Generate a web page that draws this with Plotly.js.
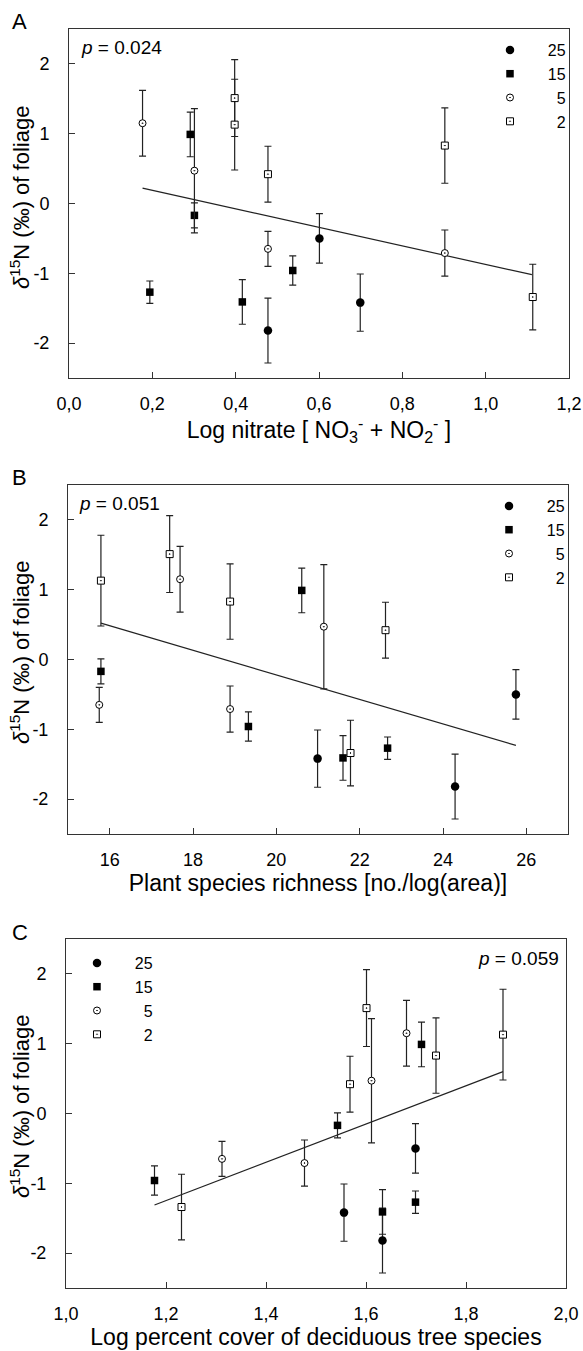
<!DOCTYPE html>
<html>
<head>
<meta charset="utf-8">
<script src="https://cdn.plot.ly/plotly-3.0.1.min.js"></script>
<style>html,body{margin:0;padding:0;background:#fff;}#chart{width:583px;height:1351px;}</style>
</head>
<body>
<div id="chart"></div>
<script>
// ---- data ----
const groupNames = ['25', '15', '5', '2'];
const legendLabels = ['\u2007\u200725', '\u2007\u200715', '\u2007\u2007\u20075', '\u2007\u2007\u20072'];

// 25 (filled circles)
const y25 = [-0.50, -1.82, -1.42];
const e25 = [0.355, 0.465, 0.41];
const xA25 = [0.601, 0.4775, 0.699];
const xB25 = [25.75, 24.29, 20.99];
const xC25 = [1.699, 1.633, 1.556];

// 15 (filled squares)
const y15 = [0.99, -0.17, -0.96, -1.27, -1.41];
const e15 = [0.32, 0.18, 0.21, 0.16, 0.32];
const xA15 = [0.291, 0.301, 0.537, 0.194, 0.416];
const xB15 = [20.61, 15.79, 19.33, 22.67, 21.60];
const xC15 = [1.711, 1.543, 1.177, 1.699, 1.633];

// 5 (open circles)
const y5 = [1.15, 0.47, -0.65, -0.71];
const e5 = [0.47, 0.89, 0.25, 0.33];
const xA5 = [0.1765, 0.301, 0.4775, 0.902];
const xB5 = [17.69, 21.14, 15.75, 18.89];
const xC5 = [1.681, 1.611, 1.312, 1.477];

// 2 (open squares)
const y2 = [1.51, 1.13, 0.42, 0.83, -1.34];
const e2 = [0.55, 0.65, 0.40, 0.54, 0.47];
const xA2 = [0.3976, 0.3976, 0.4775, 0.902, 1.113];
const xB2 = [17.44, 15.79, 22.62, 18.89, 21.78];
const xC2 = [1.601, 1.874, 1.568, 1.740, 1.231];

// regression lines
const fitAx = [0.1765, 1.111], fitAy = [0.22, -1.02];
const fitBx = [15.79, 25.75], fitBy = [0.52, -1.23];
const fitCx = [1.177, 1.874], fitCy = [-1.31, 0.60];

const pTexts = ['0.024', '0.051', '0.059'];
const yTickVals = [-2, -1, 0, 1, 2];
const yTickText = ['-2', '-1', '0', '1', '2'];
const xTickValsA = [0, 0.2, 0.4, 0.6, 0.8, 1.0, 1.2];
const xTickTextA = ['0,0', '0,2', '0,4', '0,6', '0,8', '1,0', '1,2'];
const xTickValsB = [16, 18, 20, 22, 24, 26];
const xTickTextB = ['16', '18', '20', '22', '24', '26'];
const xTickValsC = [1.0, 1.2, 1.4, 1.6, 1.8, 2.0];
const xTickTextC = ['1,0', '1,2', '1,4', '1,6', '1,8', '2,0'];

// ---- layout helpers ----
const W = 583, H = 1351;
const M = {l: 66, r: 14, t: 29, b: 63};
const PW = W - M.l - M.r, PH = H - M.t - M.b;
const px2x = p => (p - M.l) / PW;
const px2y = p => (H - M.b - p) / PH;

const FONT = 'Liberation Sans, Arial, Helvetica, sans-serif';
const styles = [
  {symbol: 'circle', size: 8.5, color: '#000', lw: 0},
  {symbol: 'square', size: 7.5, color: '#000', lw: 0},
  {symbol: 'circle-dot', size: 7, color: '#fff', lw: 1},
  {symbol: 'square-dot', size: 7, color: '#fff', lw: 1}
];

const panels = [
  {xs: [xA25, xA15, xA5, xA2], fx: fitAx, fy: fitAy, xa: 'x', ya: 'y', leg: 'legend'},
  {xs: [xB25, xB15, xB5, xB2], fx: fitBx, fy: fitBy, xa: 'x2', ya: 'y2', leg: 'legend2'},
  {xs: [xC25, xC15, xC5, xC2], fx: fitCx, fy: fitCy, xa: 'x3', ya: 'y3', leg: 'legend3'}
];
const ys = [y25, y15, y5, y2];
const es = [e25, e15, e5, e2];

const traces = [];
panels.forEach(p => {
  traces.push({
    type: 'scatter', mode: 'lines', x: p.fx, y: p.fy, xaxis: p.xa, yaxis: p.ya,
    line: {color: '#222', width: 1.2}, showlegend: false, hoverinfo: 'skip'
  });
  for (let g = 0; g < 4; g++) {
    const s = styles[g];
    traces.push({
      type: 'scatter', mode: 'markers', name: legendLabels[g],
      x: p.xs[g], y: ys[g], xaxis: p.xa, yaxis: p.ya, legend: p.leg,
      marker: {symbol: s.symbol, size: s.size, color: s.color, line: {color: '#000', width: s.lw}},
      error_y: {type: 'data', array: es[g], visible: true, color: '#222', thickness: 1.2, width: 3.5}
    });
  }
});

const yTitle = '<i>δ</i><sup>15</sup>N (‰) of foliage';
function xAxis(domain, range, vals, text, title, anchor) {
  return {
    domain: domain, range: range, anchor: anchor,
    tickvals: vals, ticktext: text, ticks: 'inside', ticklen: 6, tickwidth: 1, tickcolor: '#333',
    showline: true, linecolor: '#333', linewidth: 1, mirror: true, zeroline: false, showgrid: false,
    tickfont: {family: FONT, size: 18, color: '#000'}, ticklabelstandoff: 9,
    title: {text: title, font: {family: FONT, size: 23, color: '#000'}, standoff: 3}
  };
}
function yAxis(domain, anchor) {
  return {
    domain: domain, range: [-2.5, 2.5], anchor: anchor,
    tickvals: yTickVals, ticktext: yTickText, ticks: 'inside', ticklen: 6, tickwidth: 1, tickcolor: '#333',
    showline: true, linecolor: '#333', linewidth: 1, mirror: true, zeroline: false, showgrid: false,
    tickfont: {family: FONT, size: 18, color: '#000'}, ticklabelstandoff: 15
  };
}

const legendBase = (x, y) => ({
  x: px2x(x), y: px2y(y), xanchor: 'left', yanchor: 'top', bgcolor: 'rgba(0,0,0,0)',
  font: {family: FONT, size: 16, color: '#000'}, tracegroupgap: 0, itemclick: false
});

const ann = (text, x, y, xanchor, size, angle) => ({
  text: text, xref: 'paper', yref: 'paper', x: px2x(x), y: px2y(y), xanchor: xanchor, yanchor: 'middle',
  showarrow: false, textangle: angle || 0, font: {family: FONT, size: size, color: '#000'}
});

const layout = {
  width: W, height: H, margin: M, paper_bgcolor: '#fff', plot_bgcolor: '#fff',
  font: {family: FONT, color: '#000'},
  xaxis: xAxis([px2x(69), px2x(569)], [0, 1.2], xTickValsA, xTickTextA, 'Log nitrate [ NO<sub>3</sub><sup>-</sup> + NO<sub>2</sub><sup>-</sup> ]', 'y'),
  yaxis: yAxis([px2y(378), px2y(29)], 'x'),
  xaxis2: xAxis([px2x(68), px2x(568)], [15, 27], xTickValsB, xTickTextB, 'Plant species richness [no./log(area)]', 'y2'),
  yaxis2: yAxis([px2y(834), px2y(485)], 'x2'),
  xaxis3: xAxis([px2x(66), px2x(566)], [1.0, 2.0], xTickValsC, xTickTextC, 'Log percent cover of deciduous tree species', 'y3'),
  yaxis3: yAxis([px2y(1288), px2y(939)], 'x3'),
  legend: legendBase(490, 33),
  legend2: legendBase(489, 489),
  legend3: legendBase(77, 946),
  annotations: [
    ann('A', 10, 22, 'left', 22),
    ann('B', 10, 477, 'left', 22),
    ann('C', 10, 932, 'left', 22),
    ann('<i>p</i> = ' + pTexts[0], 79, 48, 'left', 19),
    ann('<i>p</i> = ' + pTexts[1], 77, 503, 'left', 19),
    ann('<i>p</i> = ' + pTexts[2], 561, 958, 'right', 19),
    ann(yTitle, 20, 198, 'center', 22, -90),
    ann(yTitle, 20, 653, 'center', 22, -90),
    ann(yTitle, 20, 1107, 'center', 22, -90)
  ],
  showlegend: true
};

Plotly.newPlot('chart', traces, layout, {staticPlot: true, displayModeBar: false});
</script>
</body>
</html>
